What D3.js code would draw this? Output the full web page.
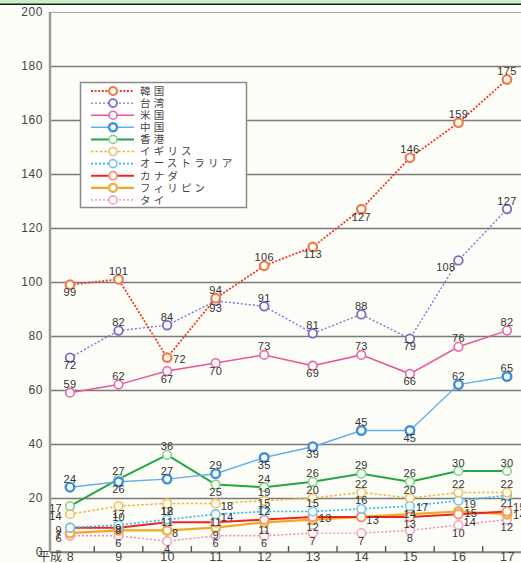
<!DOCTYPE html>
<html>
<head>
<meta charset="utf-8">
<script src="https://cdn.jsdelivr.net/npm/d3@7"></script>
<style>
  body { margin: 0; background: #fdfdf7; }
  svg text { font-family: "Liberation Sans", Arial, sans-serif; }
  .cjk { font-family: "Noto Sans CJK JP", sans-serif; }
</style>
</head>
<body>
<svg id="chart" width="521" height="563"></svg>
<script>
// Fiscal years (Heisei 8 .. 17)
const years = ["8", "9", "10", "11", "12", "13", "14", "15", "16", "17"];
const yTicks = [0, 20, 40, 60, 80, 100, 120, 140, 160, 180, 200];

const countries = ["韓国", "台湾", "米国", "中国", "香港", "イギリス", "オーストラリア", "カナダ", "フィリピン", "タイ"];

const korea     = [99, 101, 72, 94, 106, 113, 127, 146, 159, 175];
const taiwan    = [72, 82, 84, 93, 91, 81, 88, 79, 108, 127];
const usa       = [59, 62, 67, 70, 73, 69, 73, 66, 76, 82];
const china     = [24, 26, 27, 29, 35, 39, 45, 45, 62, 65];
const hongkong  = [17, 27, 36, 25, 24, 26, 29, 26, 30, 30];
const uk        = [14, 17, 18, 18, 19, 20, 22, 20, 22, 22];
const australia = [9, 10, 12, 14, 15, 15, 16, 17, 19, 21];
const canada    = [9, 9, 11, 11, 12, 13, 13, 13, 14, 15];
const philippines = [7, 8, 8, 9, 11, 12, 13, 14, 15, 14];
const thailand  = [6, 6, 4, 6, 6, 7, 7, 8, 10, 12];

// where each value label sits relative to its point
// t=above b=below l=left r=right c=centre tr/br/bbr=right above/below bl=left below n=none
const koreaLbl     = ["b", "t", "r", "t", "t", "b", "b", "t", "t", "t"];
const taiwanLbl    = ["b", "t", "t", "b", "t", "t", "t", "b", "bl", "t"];
const usaLbl       = ["t", "t", "b", "b", "t", "b", "t", "b", "t", "t"];
const chinaLbl     = ["t", "b", "t", "t", "b", "b", "t", "b", "t", "t"];
const hongkongLbl  = ["l", "t", "t", "b", "t", "t", "t", "t", "t", "t"];
const ukLbl        = ["l", "b", "b", "br", "t", "t", "t", "t", "t", "t"];
const australiaLbl = ["n", "t", "t", "br", "t", "t", "t", "r", "br", "b"];
const canadaLbl    = ["l", "c", "c", "c", "t", "r", "n", "b", "bbr", "tr"];
const philippinesLbl = ["l", "c", "br", "b", "b", "b", "br", "c", "r", "r"];
const thailandLbl  = ["l", "b", "b", "b", "b", "b", "b", "b", "b", "b"];

const seriesValues = [korea, taiwan, usa, china, hongkong, uk, australia, canada, philippines, thailand];
const seriesLabels = [koreaLbl, taiwanLbl, usaLbl, chinaLbl, hongkongLbl, ukLbl, australiaLbl, canadaLbl, philippinesLbl, thailandLbl];

// line / marker styling per country
const styles = [
  { line: "#ec3a2a", mark: "#f07a48", width: 1.8, dash: "2,1.6", mw: 2.2 },
  { line: "#7a74d6", mark: "#7a68c8", width: 1.4, dash: "2,2", mw: 1.8 },
  { line: "#e8559c", mark: "#e46aa8", width: 1.5, dash: null, mw: 1.6 },
  { line: "#66aee8", mark: "#3d8edc", width: 1.4, dash: null, mw: 2.4 },
  { line: "#23a744", mark: "#84d28c", width: 2.0, dash: null, mw: 1.6 },
  { line: "#f2b23c", mark: "#f2c060", width: 1.5, dash: "2.5,2", mw: 1.6 },
  { line: "#2eb2f0", mark: "#72c8f2", width: 1.6, dash: "2,2", mw: 1.6 },
  { line: "#ee2424", mark: "#f29272", width: 2.0, dash: null, mw: 1.8 },
  { line: "#f2a824", mark: "#f0b048", width: 2.2, dash: null, mw: 2.4 },
  { line: "#f284b4", mark: "#f2a6ca", width: 1.4, dash: "2,2", mw: 1.6 }
];

const series = countries.map((name, i) => ({
  name, values: seriesValues[i], labels: seriesLabels[i], style: styles[i]
}));

const svg = d3.select("#chart");
const W = 521, H = 563;
const bg = "#fdfdf7";

// top band
svg.append("rect").attr("x", 0).attr("y", 0).attr("width", W).attr("height", 3.5).attr("fill", "#c2f1c2");
svg.append("line").attr("x1", 0).attr("x2", W).attr("y1", 4.2).attr("y2", 4.2).attr("stroke", "#1a1a1a").attr("stroke-width", 1.6);

const plotLeft = 50, plotRight = W, plotTop = 12, plotBottom = 552;
const y = d3.scaleLinear().domain([0, 200]).range([plotBottom, plotTop]);
const x = d3.scalePoint().domain(years).range([70, 507]);

// horizontal grid + y labels
const yAxis = svg.append("g").attr("transform", `translate(${plotLeft},0)`)
  .call(d3.axisLeft(y).tickValues(yTicks).tickSize(-(plotRight - plotLeft)).tickPadding(7));
yAxis.select(".domain").remove();
yAxis.selectAll(".tick line")
  .attr("stroke", d => d === 200 ? "#aaa" : "#7a7a7a")
  .attr("stroke-width", d => d === 200 ? 1.2 : 1.5);
yAxis.selectAll(".tick text")
  .attr("fill", "#444").style("font-size", "12px").style("letter-spacing", "0.6px");

// left axis line
svg.append("line").attr("x1", plotLeft).attr("x2", plotLeft).attr("y1", plotTop).attr("y2", plotBottom)
  .attr("stroke", "#9a9a9a").attr("stroke-width", 2.5);

// x axis
const xAxis = svg.append("g").attr("transform", `translate(0,${plotBottom})`)
  .call(d3.axisBottom(x).tickSize(0).tickPadding(0));
xAxis.select(".domain").attr("d", `M${plotLeft},0H${plotRight}`).attr("stroke", "#888").attr("stroke-width", 1.5);
xAxis.selectAll(".tick text").attr("fill", "#444").style("font-size", "12.5px").style("letter-spacing", "0.5px");

// short ticks between categories
for (let i = 0; i < years.length - 1; i++) {
  const mx = (x(years[i]) + x(years[i + 1])) / 2;
  svg.append("line").attr("x1", mx).attr("x2", mx).attr("y1", plotBottom - 6).attr("y2", plotBottom)
    .attr("stroke", "#555").attr("stroke-width", 1.4);
}

svg.append("text").attr("class", "cjk").attr("x", 62).attr("y", 561).attr("text-anchor", "end")
  .attr("fill", "#444").style("font-size", "12px").text("平成");

// lines, drawn from the last legend entry to the first
const line = d3.line().x((d, i) => x(years[i])).y(d => y(d));
const drawOrder = series.slice().reverse();

drawOrder.forEach(s => {
  svg.append("path").datum(s.values).attr("d", line)
    .attr("fill", "none").attr("stroke", s.style.line).attr("stroke-width", s.style.width)
    .attr("stroke-dasharray", s.style.dash);
  svg.append("g").selectAll("circle").data(s.values).join("circle")
    .attr("cx", (d, i) => x(years[i])).attr("cy", d => y(d)).attr("r", 4.3)
    .attr("fill", bg).attr("stroke", s.style.mark).attr("stroke-width", s.style.mw);
});

// value labels
const offs = {
  t: [0, -4.5, "middle"], b: [0, 11.5, "middle"], l: [-8, 6, "end"], r: [6, 5, "start"],
  c: [0, 4, "middle"], tr: [6, -1, "start"], br: [5, 7, "start"], bbr: [5, 12, "start"],
  bl: [-3, 11, "end"]
};
series.forEach(s => {
  s.values.forEach((v, i) => {
    const p = s.labels[i];
    if (p === "n") return;
    const o = offs[p];
    svg.append("text")
      .attr("x", x(years[i]) + o[0]).attr("y", y(v) + o[1])
      .attr("text-anchor", o[2]).attr("fill", "#333")
      .style("font-size", "11px").style("letter-spacing", "0.3px")
      .text(v);
  });
});

// legend
const lg = svg.append("g");
lg.append("rect").attr("x", 80.5).attr("y", 82.5).attr("width", 166).attr("height", 125)
  .attr("fill", "#ffffff").attr("stroke", "#8a8a8a").attr("stroke-width", 1.5);
series.forEach((s, i) => {
  const yy = 91 + i * 12.1;
  lg.append("line").attr("x1", 91).attr("x2", 134).attr("y1", yy).attr("y2", yy)
    .attr("stroke", s.style.line).attr("stroke-width", s.style.width).attr("stroke-dasharray", s.style.dash);
  lg.append("circle").attr("cx", 113).attr("cy", yy).attr("r", 4)
    .attr("fill", "#fff").attr("stroke", s.style.mark).attr("stroke-width", s.style.mw);
  lg.append("text").attr("class", "cjk").attr("x", 140).attr("y", yy + 3.8)
    .attr("fill", "#444").style("font-size", "10.5px").style("letter-spacing", "3.2px")
    .text(s.name);
});
</script>
</body>
</html>
